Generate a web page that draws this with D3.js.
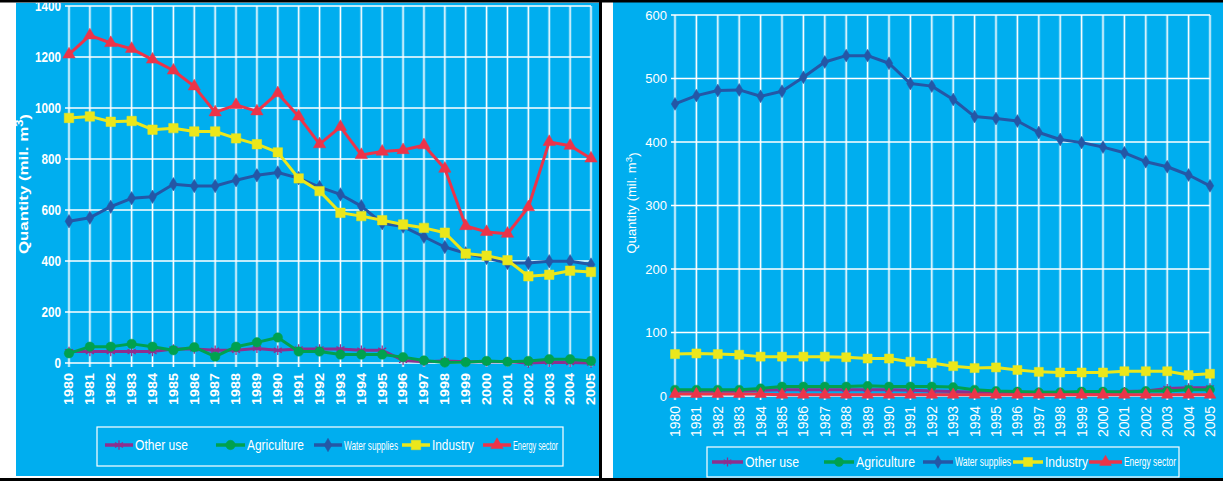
<!DOCTYPE html>
<html>
<head>
<meta charset="utf-8">
<script src="https://cdn.jsdelivr.net/npm/d3@7"></script>
<style>
  html, body { margin: 0; padding: 0; background: #fff; }
  svg { display: block; }
  text { font-family: 'Liberation Sans', Arial, sans-serif; fill: #fff; }
</style>
</head>
<body>
<div id="chart"></div>
<script>
// Years (categories)
const years = [1980, 1981, 1982, 1983, 1984, 1985, 1986, 1987, 1988, 1989, 1990, 1991, 1992,
  1993, 1994, 1995, 1996, 1997, 1998, 1999, 2000, 2001, 2002, 2003, 2004, 2005];

// Left chart values (mil. m3)
const leftOther = [45, 45, 45, 45, 45, 55, 55, 50, 50, 57, 50, 55, 55, 55, 50, 50, 10, 5, 8, 5, 5, 5, 0, 3, 2, 0];
const leftAgriculture = [38, 64, 64, 75, 64, 50, 62, 25, 64, 81, 100, 45, 45, 33, 33, 33, 23, 10, 2, 3, 8, 5, 8, 15, 15, 8];
const leftWater = [556, 570, 613, 646, 652, 701, 694, 694, 717, 736, 747, 725, 690, 661, 615, 548, 535, 495, 455, 430, 412, 392, 392, 399, 399, 386];
const leftIndustry = [961, 967, 946, 949, 915, 921, 908, 908, 881, 858, 826, 724, 674, 589, 576, 560, 543, 530, 511, 429, 421, 403, 340, 346, 362, 357];
const leftEnergy = [1210, 1285, 1255, 1232, 1190, 1147, 1085, 983, 1012, 987, 1058, 967, 858, 926, 816, 829, 835, 854, 762, 537, 514, 507, 611, 867, 852, 802];

// Right chart values (mil. m3)
const rightOther = [8, 8, 8, 8, 9, 10, 10, 10, 10, 10, 10, 9, 8, 7, 6, 6, 6, 6, 6, 6, 6, 7, 8, 12, 13, 13];
const rightAgriculture = [10, 10, 10, 10, 12, 15, 15, 15, 15, 16, 15, 15, 15, 14, 10, 8, 7, 6, 6, 7, 7, 6, 8, 8, 10, 10];
const rightWater = [460, 473, 481, 482, 472, 480, 502, 526, 536, 536, 524, 492, 488, 467, 440, 437, 433, 415, 404, 399, 392, 383, 369, 361, 348, 331];
const rightIndustry = [66, 67, 66, 65, 62, 62, 62, 62, 61, 59, 59, 54, 52, 47, 44, 45, 41, 38, 37, 37, 37, 39, 39, 39, 33, 35];
const rightEnergy = [3, 3, 3, 3, 3, 2, 2, 2, 2, 2, 2, 2, 2, 2, 2, 2, 2, 2, 2, 2, 2, 2, 2, 2, 2, 2];

// Tick values
const leftTicks = [0, 200, 400, 600, 800, 1000, 1200, 1400];
const rightTicks = [0, 100, 200, 300, 400, 500, 600];

const seriesNames = ['Other use', 'Agriculture', 'Water supplies', 'Industry', 'Energy sector'];

const bgColor = '#00aeef';
const colors = ['#8e2f8e', '#00a14f', '#2457a6', '#ebe71b', '#ec3449'];
const symbols = [d3.symbolAsterisk, d3.symbolCircle, d3.symbolDiamond, d3.symbolSquare, d3.symbolTriangle];
const symbolSizes = [55, 64, 48, 81, 60];

const svg = d3.select('#chart')
  .append('svg')
  .attr('width', 1223)
  .attr('height', 481);

svg.append('rect').attr('width', 1223).attr('height', 481).attr('fill', '#fff');

function drawPanel(opts) {
  // Panel background with clipping
  const clipId = opts.id + '-clip';
  svg.append('defs').append('clipPath').attr('id', clipId)
    .append('rect')
    .attr('x', opts.box[0]).attr('y', opts.box[1])
    .attr('width', opts.box[2]).attr('height', opts.box[3]);

  const g = svg.append('g').attr('clip-path', `url(#${clipId})`);

  g.append('rect')
    .attr('x', opts.box[0]).attr('y', opts.box[1])
    .attr('width', opts.box[2]).attr('height', opts.box[3])
    .attr('fill', bgColor);

  // Scales
  const x = d3.scalePoint()
    .domain(years)
    .range(opts.xRange);

  const y = d3.scaleLinear()
    .domain([0, opts.ticks[opts.ticks.length - 1]])
    .range(opts.yRange);

  // Vertical grid lines (one per year)
  const vg = g.append('g');
  vg.selectAll('.vhalo')
    .data(years)
    .enter()
    .append('line')
    .attr('x1', d => x(d)).attr('x2', d => x(d))
    .attr('y1', y.range()[1]).attr('y2', y(0) + 4)
    .attr('stroke', 'rgba(255,255,255,0.3)')
    .attr('stroke-width', 3);
  vg.selectAll('.vline')
    .data(years)
    .enter()
    .append('line')
    .attr('x1', d => x(d)).attr('x2', d => x(d))
    .attr('y1', y.range()[1]).attr('y2', y(0) + 4)
    .attr('stroke', '#fff')
    .attr('stroke-width', 1.1);

  // Horizontal grid lines + ticks
  g.append('g')
    .selectAll('line')
    .data(opts.ticks)
    .enter()
    .append('line')
    .attr('x1', opts.xRange[0] - 4).attr('x2', opts.xRange[1])
    .attr('y1', d => y(d)).attr('y2', d => y(d))
    .attr('stroke', '#fff')
    .attr('stroke-width', 1.4);

  // Y tick labels
  g.append('g')
    .selectAll('text')
    .data(opts.ticks)
    .enter()
    .append('text')
    .attr('x', opts.xRange[0] - 8)
    .attr('y', d => y(d))
    .attr('dy', '0.35em')
    .style('text-anchor', 'end')
    .style('font-size', opts.yTickFont.size + 'px')
    .style('font-weight', opts.yTickFont.weight)
    .each(function(d) {
      if (opts.yTickFont.charWidth) {
        d3.select(this)
          .attr('textLength', String(d).length * opts.yTickFont.charWidth)
          .attr('lengthAdjust', 'spacingAndGlyphs');
      }
    })
    .text(d => d);

  // X tick labels (rotated)
  g.append('g')
    .selectAll('text')
    .data(years)
    .enter()
    .append('text')
    .attr('transform', d => `translate(${x(d)},${opts.xLabelTop}) rotate(-90)`)
    .attr('dy', '0.36em')
    .style('text-anchor', 'end')
    .style('font-size', opts.xTickFont.size + 'px')
    .style('font-weight', opts.xTickFont.weight)
    .attr('textLength', opts.xTickFont.length)
    .attr('lengthAdjust', 'spacingAndGlyphs')
    .text(d => d);

  // Y axis title
  const title = g.append('text')
    .attr('transform', `translate(${opts.title.x},${opts.title.y}) rotate(-90)`)
    .attr('dy', '0.35em')
    .style('text-anchor', 'middle')
    .style('font-size', opts.title.size + 'px')
    .style('font-weight', opts.title.weight)
    .attr('textLength', opts.title.length)
    .attr('lengthAdjust', 'spacingAndGlyphs');
  title.append('tspan').text('Quantity (mil. m');
  title.append('tspan').attr('dy', '-0.45em').style('font-size', (opts.title.size - 3) + 'px').text('3');
  title.append('tspan').attr('dy', '0.45em').text(')');

  // Series lines and markers
  const line = d3.line()
    .x((d, i) => x(years[i]))
    .y(d => y(d));

  opts.series.forEach((values, s) => {
    g.append('path')
      .datum(values)
      .attr('d', line)
      .attr('fill', 'none')
      .attr('stroke', colors[s])
      .attr('stroke-width', opts.lineWidth)
      .attr('stroke-linejoin', 'round');

    const isStroke = s === 0;
    g.append('g')
      .selectAll('path')
      .data(values)
      .enter()
      .append('path')
      .attr('transform', (d, i) => `translate(${x(years[i])},${y(d)})`)
      .attr('d', d3.symbol().type(symbols[s]).size(symbolSizes[s] * opts.markerScale))
      .attr('fill', isStroke ? 'none' : colors[s])
      .attr('stroke', colors[s])
      .attr('stroke-width', isStroke ? 1.3 : 0.5);
  });

  // Legend
  const lg = opts.legend;
  g.append('rect')
    .attr('x', lg.box[0]).attr('y', lg.box[1])
    .attr('width', lg.box[2]).attr('height', lg.box[3])
    .attr('fill', 'none')
    .attr('stroke', '#fff')
    .attr('stroke-width', 1.2);

  seriesNames.forEach((name, s) => {
    const item = lg.items[s];
    g.append('line')
      .attr('x1', item.x1).attr('x2', item.x2)
      .attr('y1', lg.y).attr('y2', lg.y)
      .attr('stroke', colors[s])
      .attr('stroke-width', opts.lineWidth + 0.5);

    g.append('path')
      .attr('transform', `translate(${(item.x1 + item.x2) / 2},${lg.y})`)
      .attr('d', d3.symbol().type(symbols[s]).size(symbolSizes[s] * opts.markerScale))
      .attr('fill', s === 0 ? 'none' : colors[s])
      .attr('stroke', colors[s])
      .attr('stroke-width', s === 0 ? 1.3 : 0.5);

    g.append('text')
      .attr('x', item.x2 + 2)
      .attr('y', lg.y)
      .attr('dy', '0.35em')
      .style('font-size', item.size + 'px')
      .attr('textLength', item.len)
      .attr('lengthAdjust', 'spacingAndGlyphs')
      .text(name);
  });
}

// Left panel
drawPanel({
  id: 'left',
  box: [16, 2.5, 583, 473.5],
  xRange: [69, 591],
  yRange: [363, 6],
  ticks: leftTicks,
  series: [leftOther, leftAgriculture, leftWater, leftIndustry, leftEnergy],
  lineWidth: 3,
  markerScale: 1.1,
  yTickFont: { size: 14, weight: 'bold', charWidth: 6.5 },
  xTickFont: { size: 12, weight: 'bold', length: 32 },
  xLabelTop: 373,
  title: { x: 23, y: 184, size: 13, weight: 'bold', length: 140 },
  legend: {
    box: [97, 427, 466, 39],
    y: 445,
    items: [
      { x1: 105, x2: 133, size: 15, len: 53 },
      { x1: 216, x2: 245, size: 15, len: 57 },
      { x1: 314, x2: 342, size: 13, len: 54 },
      { x1: 402, x2: 430, size: 15, len: 42 },
      { x1: 483, x2: 511, size: 13, len: 45 }
    ]
  }
});

// Right panel
drawPanel({
  id: 'right',
  box: [613, 2, 610, 476],
  xRange: [675, 1210],
  yRange: [396, 15],
  ticks: rightTicks,
  series: [rightOther, rightAgriculture, rightWater, rightIndustry, rightEnergy],
  lineWidth: 3,
  markerScale: 1,
  yTickFont: { size: 13, weight: 'normal' },
  xTickFont: { size: 14, weight: 'normal', length: 31 },
  xLabelTop: 406,
  title: { x: 632, y: 203, size: 12, weight: 'normal', length: 101 },
  legend: {
    box: [707, 447, 472, 30],
    y: 462,
    items: [
      { x1: 712, x2: 743, size: 14, len: 54 },
      { x1: 824, x2: 854, size: 14, len: 59 },
      { x1: 923, x2: 953, size: 12, len: 56 },
      { x1: 1013, x2: 1043, size: 14, len: 43 },
      { x1: 1089, x2: 1122, size: 12, len: 52 }
    ]
  }
});

// Black frame lines
svg.append('rect').attr('x', 0).attr('y', 0).attr('width', 1223).attr('height', 2.5).attr('fill', '#000');
svg.append('rect').attr('x', 599).attr('y', 0).attr('width', 3).attr('height', 481).attr('fill', '#000');
svg.append('rect').attr('x', 0).attr('y', 478).attr('width', 1223).attr('height', 3).attr('fill', '#000');
</script>
</body>
</html>
